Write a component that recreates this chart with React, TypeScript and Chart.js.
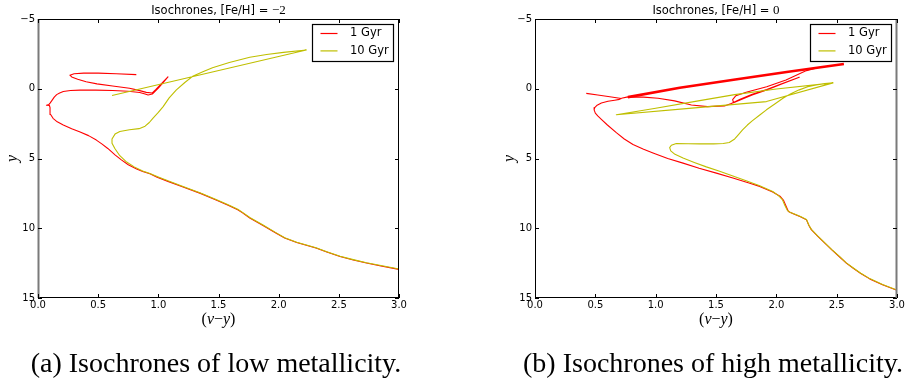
import React, { useEffect, useRef } from "react";
import { Chart, registerables } from "chart.js";

Chart.register(...registerables);

type Pt = [number, number];

// ---------- axis / label data ----------
const xTicks = [0, 0.5, 1, 1.5, 2, 2.5, 3];
const yTicks = [-5, 0, 5, 10, 15];
const seriesNames = ["1 Gyr", "10 Gyr"];
const seriesColors = ["#ff0000", "#bfbf00"];
const titleText = "Isochrones, [Fe/H] = ";
const titleMath = ["\u22122", "0"];
const captions = ["(a) Isochrones of low metallicity.", "(b) Isochrones of high metallicity."];

// ---------- [Fe/H] = -2 ----------
const lowZ1Gyr: Pt[] = [
  [3.0, 12.95], [2.85, 12.7], [2.73, 12.49], [2.62, 12.27], [2.51, 12.03], [2.4, 11.7], [2.31, 11.42],
  [2.15, 11.02], [2.05, 10.7], [1.98, 10.36], [1.87, 9.8], [1.76, 9.27], [1.7, 8.9], [1.66, 8.68],
  [1.58, 8.35], [1.48, 7.97], [1.35, 7.5], [1.2, 7.02], [1.08, 6.64], [0.99, 6.34], [0.93, 6.1],
  [0.87, 5.93], [0.82, 5.75], [0.75, 5.45], [0.69, 5.08], [0.64, 4.74], [0.58, 4.28], [0.53, 3.95],
  [0.485, 3.68], [0.42, 3.36], [0.35, 3.1], [0.28, 2.87], [0.21, 2.6], [0.16, 2.37], [0.125, 2.12],
  [0.105, 1.85], [0.1, 1.6], [0.1, 1.35], [0.095, 1.2], [0.07, 1.18], [0.09, 1.14], [0.1, 1.03],
  [0.115, 0.85], [0.135, 0.6], [0.155, 0.42], [0.18, 0.3], [0.21, 0.2], [0.27, 0.13], [0.35, 0.1],
  [0.48, 0.1], [0.62, 0.13], [0.75, 0.18], [0.845, 0.27], [0.89, 0.38], [0.915, 0.45], [0.95, 0.38],
  [1.0, -0.05], [1.05, -0.55], [1.08, -0.85], [1.03, -0.4], [0.98, 0.05], [0.95, 0.3], [0.9, 0.26],
  [0.83, 0.1], [0.76, -0.04], [0.62, -0.2], [0.49, -0.35], [0.4, -0.5], [0.33, -0.68], [0.28, -0.85],
  [0.265, -0.97], [0.3, -1.08], [0.38, -1.12], [0.5, -1.12], [0.65, -1.07], [0.817, -1.01],
];

const lowZ10Gyr: Pt[] = [
  [3.0, 12.92], [2.85, 12.67], [2.73, 12.47], [2.62, 12.25], [2.51, 12.01], [2.4, 11.68], [2.31, 11.4],
  [2.15, 11.0], [2.05, 10.68], [1.98, 10.33], [1.87, 9.77], [1.76, 9.23], [1.7, 8.86], [1.66, 8.64],
  [1.58, 8.32], [1.48, 7.94], [1.35, 7.47], [1.2, 6.99], [1.08, 6.6], [1.0, 6.32], [0.93, 6.08],
  [0.87, 5.9], [0.8, 5.6], [0.73, 5.21], [0.68, 4.8], [0.64, 4.3], [0.615, 3.9], [0.615, 3.6],
  [0.64, 3.25], [0.68, 3.06], [0.76, 2.94], [0.84, 2.86], [0.89, 2.68], [0.925, 2.42], [0.956, 2.11],
  [1.0, 1.7], [1.04, 1.28], [1.09, 0.65], [1.15, 0.08], [1.22, -0.45], [1.29, -0.92], [1.37, -1.22],
  [1.45, -1.5], [1.59, -1.88], [1.76, -2.26], [1.9, -2.45], [2.04, -2.61], [2.23, -2.78], [0.615, 0.48],
];

// ---------- [Fe/H] = 0 ----------
const highZ1GyrMS: Pt[] = [
  [0.425, 0.33], [0.52, 0.45], [0.62, 0.57], [0.716, 0.7], [0.7, 0.76], [0.66, 0.82], [0.605, 0.9],
  [0.55, 1.02], [0.515, 1.18], [0.495, 1.35], [0.49, 1.51], [0.5, 1.75], [0.52, 1.95], [0.55, 2.2],
  [0.6, 2.6], [0.674, 3.15], [0.74, 3.6], [0.812, 4.0], [0.9, 4.33], [0.978, 4.6], [1.1, 5.0],
  [1.227, 5.33], [1.36, 5.7], [1.503, 6.05], [1.64, 6.4], [1.78, 6.78], [1.862, 7.0], [1.97, 7.4],
  [2.03, 7.7], [2.06, 8.0], [2.08, 8.4], [2.1, 8.8], [2.14, 8.96], [2.2, 9.18], [2.25, 9.4],
  [2.27, 9.8], [2.29, 10.1], [2.34, 10.55], [2.387, 10.94], [2.46, 11.55], [2.525, 12.06],
  [2.58, 12.5], [2.635, 12.85], [2.7, 13.25], [2.774, 13.63], [2.88, 14.05], [3.0, 14.45],
];

const highZ1GyrGiants: Pt[] = [
  [0.716, 0.68], [0.77, 0.58], [0.9, 0.6], [1.02, 0.68], [1.157, 0.87], [1.296, 1.16], [1.43, 1.28],
  [1.57, 1.23], [1.627, 1.06], [1.7, 0.75], [1.8, 0.4], [1.92, 0.05], [2.05, -0.38], [2.19, -0.82],
  [2.05, -0.36], [1.92, 0.08], [1.8, 0.45], [1.7, 0.8], [1.645, 1.0], [1.638, 0.78], [1.665, 0.5],
  [1.75, 0.25], [1.92, -0.15], [2.08, -0.63], [2.25, -1.3], [2.32, -1.45],
];

const highZ1GyrAGB: Pt[] = [
  [0.77, 0.6], [1.2, -0.07], [1.66, -0.66], [2.1, -1.22], [2.56, -1.77],
];

const highZ10Gyr: Pt[] = [
  [3.0, 14.43], [2.88, 14.03], [2.774, 13.61], [2.7, 13.23], [2.635, 12.83], [2.58, 12.48],
  [2.525, 12.04], [2.46, 11.53], [2.387, 10.92], [2.34, 10.53], [2.29, 10.08], [2.27, 9.78],
  [2.25, 9.37], [2.2, 9.16], [2.14, 8.94], [2.11, 8.85], [2.09, 8.7], [2.07, 8.35], [2.05, 7.95],
  [2.02, 7.68], [1.97, 7.37], [1.862, 6.96], [1.75, 6.6], [1.64, 6.25], [1.53, 5.92], [1.42, 5.6],
  [1.32, 5.28], [1.227, 4.97], [1.16, 4.7], [1.125, 4.45], [1.116, 4.22], [1.13, 4.05], [1.171, 3.93],
  [1.27, 3.94], [1.365, 3.95], [1.48, 3.95], [1.56, 3.93], [1.61, 3.85], [1.655, 3.6], [1.69, 3.25],
  [1.72, 2.95], [1.76, 2.6], [1.8, 2.3], [1.86, 1.9], [1.918, 1.51], [1.99, 1.08], [2.055, 0.68],
  [2.12, 0.35], [2.19, 0.08], [2.26, -0.14], [2.33, -0.28], [2.4, -0.37], [2.47, -0.42],
  [1.918, 0.92], [1.3, 1.39], [0.674, 1.86], [1.0, 1.4], [1.365, 0.85], [1.655, 0.42], [2.0, 0.02],
  [2.47, -0.42],
];

const SANS = '"DejaVu Sans", sans-serif';
const SERIF = '"Liberation Serif", "DejaVu Serif", serif';

interface Series { pts: Pt[]; color: string; width: number; }
interface PanelProps {
  left: number;
  padLeft: number;
  padRight: number;
  series: Series[];
  math: string;
  graySide: "left" | "right";
}

function makePlugin(math: string, graySide: "left" | "right") {
  return {
    id: "mplAxes",
    afterDraw(chart: any) {
      const { ctx, chartArea: a, scales } = chart;
      const sx = scales.x;
      const sy = scales.y;
      ctx.save();
      // frame
      ctx.strokeStyle = "#000";
      ctx.lineWidth = 1;
      ctx.beginPath();
      ctx.moveTo(a.left, a.top + 0.5);
      ctx.lineTo(a.right, a.top + 0.5);
      ctx.moveTo(a.left, a.bottom - 0.5);
      ctx.lineTo(a.right, a.bottom - 0.5);
      if (graySide !== "left") {
        ctx.moveTo(a.left + 0.5, a.top);
        ctx.lineTo(a.left + 0.5, a.bottom);
      }
      if (graySide !== "right") {
        ctx.moveTo(a.right - 0.5, a.top);
        ctx.lineTo(a.right - 0.5, a.bottom);
      }
      ctx.stroke();
      ctx.strokeStyle = "#7a7a7a";
      ctx.lineWidth = 2;
      ctx.beginPath();
      const gx = graySide === "left" ? a.left + 0.5 : a.right - 0.5;
      ctx.moveTo(gx, a.top);
      ctx.lineTo(gx, a.bottom);
      ctx.stroke();

      // ticks (inward, all four sides)
      ctx.strokeStyle = "#000";
      ctx.lineWidth = 1;
      ctx.beginPath();
      const tl = 4;
      xTicks.forEach((t) => {
        const px = Math.round(sx.getPixelForValue(t)) + 0.5;
        ctx.moveTo(px, a.bottom);
        ctx.lineTo(px, a.bottom - tl);
        ctx.moveTo(px, a.top);
        ctx.lineTo(px, a.top + tl);
      });
      yTicks.forEach((t) => {
        const py = Math.round(sy.getPixelForValue(t)) + 0.5;
        ctx.moveTo(a.left, py);
        ctx.lineTo(a.left + tl, py);
        ctx.moveTo(a.right, py);
        ctx.lineTo(a.right - tl, py);
      });
      ctx.stroke();

      // tick labels
      ctx.fillStyle = "#000";
      ctx.font = `10px ${SANS}`;
      ctx.textAlign = "right";
      ctx.textBaseline = "middle";
      yTicks.forEach((t) => {
        const py = sy.getPixelForValue(t);
        const s = t < 0 ? "\u2212" + Math.abs(t) : String(t);
        ctx.fillText(s, a.left - 3, py);
      });
      ctx.textAlign = "center";
      ctx.textBaseline = "top";
      xTicks.forEach((t) => {
        const px = sx.getPixelForValue(t);
        ctx.fillText(t.toFixed(1), px, a.bottom + 2);
      });

      // title
      const cx = (a.left + a.right) / 2;
      ctx.textBaseline = "alphabetic";
      ctx.textAlign = "left";
      ctx.font = `11.5px ${SANS}`;
      const w1 = ctx.measureText(titleText).width;
      ctx.font = `13px ${SERIF}`;
      const w2 = ctx.measureText(math).width;
      const tx = cx - (w1 + w2) / 2;
      ctx.font = `11.5px ${SANS}`;
      ctx.fillText(titleText, tx, a.top - 5);
      ctx.font = `13px ${SERIF}`;
      ctx.fillText(math, tx + w1, a.top - 5);

      // x axis label (v−y)
      const parts: [string, boolean][] = [["(", false], ["v", true], ["\u2212", false], ["y", true], [")", false]];
      const fs = 16;
      let total = 0;
      const widths = parts.map(([s, it]) => {
        ctx.font = `${it ? "italic " : ""}${fs}px ${SERIF}`;
        const w = ctx.measureText(s).width;
        total += w;
        return w;
      });
      let lx = cx - total / 2;
      parts.forEach(([s, it], i) => {
        ctx.font = `${it ? "italic " : ""}${fs}px ${SERIF}`;
        ctx.fillText(s, lx, a.bottom + 26);
        lx += widths[i];
      });

      // y axis label
      ctx.save();
      ctx.translate(a.left - 25, (a.top + a.bottom) / 2);
      ctx.rotate(-Math.PI / 2);
      ctx.textAlign = "center";
      ctx.textBaseline = "middle";
      ctx.font = `italic ${fs}px ${SERIF}`;
      ctx.fillText("y", 0, 0);
      ctx.restore();

      // legend
      const bw = 81;
      const bh = 37;
      const bx = Math.round(a.right - 6 - bw) + 0.5;
      const by = Math.round(a.top + 5) + 0.5;
      ctx.fillStyle = "#fff";
      ctx.fillRect(bx, by, bw, bh);
      ctx.strokeStyle = "#000";
      ctx.lineWidth = 1.2;
      ctx.strokeRect(bx, by, bw, bh);
      ctx.font = `11.5px ${SANS}`;
      ctx.textAlign = "left";
      ctx.textBaseline = "middle";
      seriesNames.forEach((name, i) => {
        const ly = by + 9 + i * 17.4;
        ctx.strokeStyle = seriesColors[i];
        ctx.lineWidth = 1.2;
        ctx.beginPath();
        ctx.moveTo(bx + 8, ly);
        ctx.lineTo(bx + 25, ly);
        ctx.stroke();
        ctx.fillStyle = "#000";
        ctx.fillText(name, bx + 37.5, ly);
      });
      ctx.restore();
    },
  };
}

function Panel({ left, padLeft, padRight, series, math, graySide }: PanelProps) {
  const ref = useRef<HTMLCanvasElement>(null);
  useEffect(() => {
    const chart = new Chart(ref.current as HTMLCanvasElement, {
      type: "scatter",
      data: {
        datasets: series.map((s) => ({
          data: s.pts.map(([x, y]) => ({ x, y })),
          showLine: true,
          borderColor: s.color,
          backgroundColor: s.color,
          borderWidth: s.width,
          borderJoinStyle: "round",
          pointRadius: 0,
          pointHoverRadius: 0,
          tension: 0,
          fill: false,
        })),
      },
      options: {
        responsive: false,
        animation: false,
        devicePixelRatio: 1,
        events: [],
        layout: { padding: { left: padLeft, right: padRight, top: 19, bottom: 32 } },
        scales: {
          x: { type: "linear", min: 0, max: 3, display: false },
          y: { type: "linear", min: -5, max: 15, reverse: true, display: false },
        },
        plugins: { legend: { display: false }, tooltip: { enabled: false }, title: { display: false } },
      },
      plugins: [makePlugin(math, graySide)],
    } as any);
    return () => chart.destroy();
  }, []);
  return (
    <canvas
      ref={ref}
      width={453}
      height={330}
      style={{ position: "absolute", left, top: 0, width: 453, height: 330 }}
    />
  );
}

export default function App() {
  // first dataset is drawn on top in Chart.js
  const lowSeries: Series[] = [
    { pts: lowZ10Gyr, color: seriesColors[1], width: 1.1 },
    { pts: lowZ1Gyr, color: seriesColors[0], width: 1.1 },
  ];
  const highSeries: Series[] = [
    { pts: highZ1GyrAGB, color: seriesColors[0], width: 2.6 },
    { pts: highZ10Gyr, color: seriesColors[1], width: 1.1 },
    { pts: highZ1GyrMS, color: seriesColors[0], width: 1.1 },
    { pts: highZ1GyrGiants, color: seriesColors[0], width: 1.1 },
  ];
  return (
    <div style={{ position: "absolute", left: 0, top: 0, width: 906, height: 381, background: "#fff", overflow: "hidden" }}>
      <Panel left={0} padLeft={38} padRight={54} series={lowSeries} math={titleMath[0]} graySide="left" />
      <Panel left={453} padLeft={82} padRight={9} series={highSeries} math={titleMath[1]} graySide="right" />
      <svg width={906} height={381} style={{ position: "absolute", left: 0, top: 0, pointerEvents: "none" }}>
        <text x={216} y={372} textAnchor="middle" fontFamily={SERIF} fontSize={28} fill="#000">
          {captions[0]}
        </text>
        <text x={713} y={372} textAnchor="middle" fontFamily={SERIF} fontSize={28} fill="#000">
          {captions[1]}
        </text>
      </svg>
    </div>
  );
}
